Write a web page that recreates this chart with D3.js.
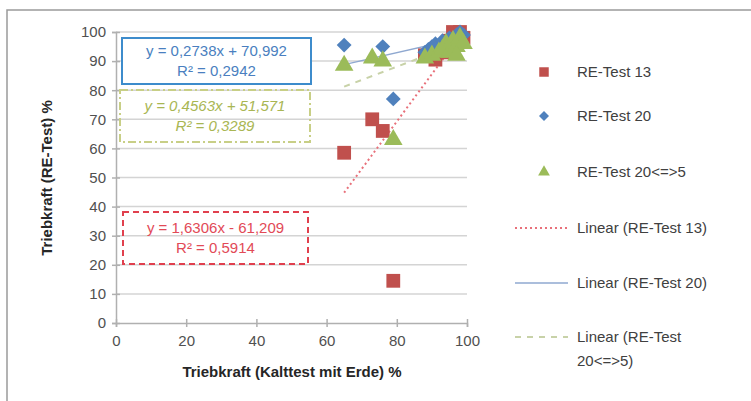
<!DOCTYPE html>
<html>
<head>
<meta charset="utf-8">
<script src="https://cdn.jsdelivr.net/npm/d3@7"></script>
<style>
body{margin:0;background:#fff}
text{font-family:"Liberation Sans",Arial,sans-serif}
</style>
</head>
<body>
<div id="chart"></div>
<script>
// data
var test13 = [[65,58.5],[73,70],[76,66],[79,14.5],[88,92],[91,90.5],[93,93],[95,97],[96,100],[97,99],[98,100],[99,98]]
var test20 = [[65,95.5],[76,95],[79,77],[88,93],[89,94],[90,95],[91,96],[93,97],[95,98],[97,99],[98,100],[99,99]]
var test205 = [[65,88.5],[73,91],[76,90],[79,63],[88,91],[90,92],[92,93],[93,94],[94,96],[95,93],[96,97],[97,95],[98,98],[99,96],[97,92]]

var series_names = ["RE-Test 13","RE-Test 20","RE-Test 20<=>5"]
var trend_names = ["Linear (RE-Test 13)","Linear (RE-Test 20)","Linear (RE-Test 20<=>5)"]
// slope, intercept
var slopes = [1.6306, 0.2738, 0.4563]
var intercepts = [-61.209, 70.992, 51.571]
var eq_labels = ["y = 1,6306x - 61,209","y = 0,2738x + 70,992","y = 0,4563x + 51,571"]
var r2_labels = ["R² = 0,5914","R² = 0,2942","R² = 0,3289"]
var xticks = [0,20,40,60,80,100]
var yticks = [0,10,20,30,40,50,60,70,80,90,100]

var colors = ["#c0504d","#4f81bd","#9bbb59"]
var trend_colors = ["#e8707a","#8fa8d0","#c8d2a8"]

var svg = d3.select("#chart")
  .append("svg")
  .attr("width", 751)
  .attr("height", 401)

svg.append("rect")
  .attr("x",7).attr("y",10)
  .attr("width",780).attr("height",395)
  .attr("fill","#fff")
  .attr("stroke","#9a9a9a")
  .attr("stroke-width",1.5)

var x = d3.scaleLinear()
    .domain([0,100])
    .range([116,467])
var y = d3.scaleLinear()
    .domain([0,100])
    .range([323,32])

// grid
svg.selectAll(".grid")
  .data(yticks.filter(function(d){return d>0}))
  .enter()
  .append("line")
  .attr("x1",x(0)).attr("x2",x(100))
  .attr("y1",function(d){return y(d)})
  .attr("y2",function(d){return y(d)})
  .attr("stroke","#d4d4d4")
  .attr("stroke-width",1.5)

// axes
var xAxis = svg.append("g")
  .attr("transform","translate(0,"+y(0)+")")
  .call(d3.axisBottom(x).tickValues(xticks).tickSize(4).tickPadding(8))
var yAxis = svg.append("g")
  .attr("transform","translate("+x(0)+",0)")
  .call(d3.axisLeft(y).tickValues(yticks).tickSize(4).tickPadding(6))
;[xAxis,yAxis].forEach(function(a){
  a.select(".domain").attr("stroke","#b0b0b0").attr("stroke-width",1.5)
  a.selectAll(".tick line").attr("stroke","#b0b0b0").attr("stroke-width",1.5)
  a.selectAll(".tick text").attr("fill","#505050").style("font-size","15px").style("font-family","Liberation Sans, Arial, sans-serif")
})
// ticks on both sides like excel
xAxis.selectAll(".tick").append("line").attr("y2",-4).attr("stroke","#b0b0b0").attr("stroke-width",1.5)
yAxis.selectAll(".tick").append("line").attr("x2",4).attr("stroke","#b0b0b0").attr("stroke-width",1.5)

// equation boxes (drawn under the points)
var boxes = [
  {i:1, x:122, y:38, w:189, h:46, stroke:"#3d8ccc", dash:"none", text:"#4a7fc0", italic:false, fill:"#fff"},
  {i:2, x:120, y:90, w:190, h:52, stroke:"#c8cf86", dash:"8,3,2,3", text:"#a9b653", italic:true, fill:"none"},
  {i:0, x:123, y:212, w:185, h:52, stroke:"#e0404e", dash:"6,4", text:"#e24a57", italic:false, fill:"none"}
]
boxes.forEach(function(b){
  svg.append("rect")
    .attr("x",b.x).attr("y",b.y).attr("width",b.w).attr("height",b.h)
    .attr("fill",b.fill)
    .attr("stroke",b.stroke)
    .attr("stroke-width",2)
    .attr("stroke-dasharray",b.dash)
  var t = svg.append("text")
    .attr("text-anchor","middle")
    .attr("fill",b.text)
    .style("font-size","15px")
    .style("font-style",b.italic?"italic":"normal")
  t.append("tspan").attr("x",b.x+b.w/2).attr("y",b.y+b.h/2-5).text(eq_labels[b.i])
  t.append("tspan").attr("x",b.x+b.w/2).attr("y",b.y+b.h/2+15).text(r2_labels[b.i])
})

// trend lines over the x range of each series
var all_series = [test13,test20,test205]
var dashes = ["2,3","none","6,6"]
var plot = svg.append("g")
all_series.forEach(function(s,i){
  var x0 = d3.min(s,function(d){return d[0]})
  var x1 = d3.max(s,function(d){return d[0]})
  var xEnd = Math.min(x1,(100-intercepts[i])/slopes[i])
  plot.append("line")
    .attr("x1",x(x0)).attr("y1",y(slopes[i]*x0+intercepts[i]))
    .attr("x2",x(xEnd)).attr("y2",y(slopes[i]*xEnd+intercepts[i]))
    .attr("stroke",trend_colors[i])
    .attr("stroke-width",i==1?1.5:2)
    .attr("stroke-dasharray",dashes[i])
})

// diamond = square turned 45 degrees
var symbols = [d3.symbolSquare,d3.symbolSquare,d3.symbolTriangle]
var rotate = [0,45,0]
var sizes = [190,110,150]
;[0,1,2].forEach(function(i){
  plot.selectAll(".pt"+i)
    .data(all_series[i])
    .enter()
    .append("path")
    .attr("d",d3.symbol().type(symbols[i]).size(sizes[i]))
    .attr("transform",function(d){return "translate("+x(d[0])+","+y(d[1])+") rotate("+rotate[i]+")"})
    .attr("fill",colors[i])
})

// axis titles
svg.append("text")
  .attr("x",292).attr("y",377)
  .attr("text-anchor","middle")
  .attr("font-weight","bold")
  .attr("fill","#262626")
  .style("font-size","15px")
  .text("Triebkraft (Kalttest mit Erde) %")
svg.append("text")
  .attr("transform","translate(52,178) rotate(-90)")
  .attr("text-anchor","middle")
  .attr("font-weight","bold")
  .attr("fill","#262626")
  .style("font-size","15px")
  .text("Triebkraft (RE-Test) %")

// legend
var leg = svg.append("g")
var legY = [72,116,172]
var legSizes = [90,50,60]
series_names.forEach(function(n,i){
  leg.append("path")
    .attr("d",d3.symbol().type(symbols[i]).size(legSizes[i]))
    .attr("transform","translate(544,"+legY[i]+") rotate("+rotate[i]+")")
    .attr("fill",colors[i])
  leg.append("text")
    .attr("x",577).attr("y",legY[i]+5)
    .attr("fill","#404040")
    .style("font-size","15px")
    .text(n)
})
var legLineY = [228,283,337]
trend_names.forEach(function(n,i){
  leg.append("line")
    .attr("x1",515).attr("x2",568)
    .attr("y1",legLineY[i]).attr("y2",legLineY[i])
    .attr("stroke",trend_colors[i])
    .attr("stroke-width",i==1?1.5:2)
    .attr("stroke-dasharray",dashes[i])
  var t = leg.append("text")
    .attr("x",577).attr("y",legLineY[i]+5)
    .attr("fill","#404040")
    .style("font-size","15px")
  if(i==2){
    t.append("tspan").attr("x",577).text("Linear (RE-Test")
    t.append("tspan").attr("x",577).attr("dy",24).text("20<=>5)")
  } else {
    t.text(n)
  }
})
</script>
</body>
</html>
